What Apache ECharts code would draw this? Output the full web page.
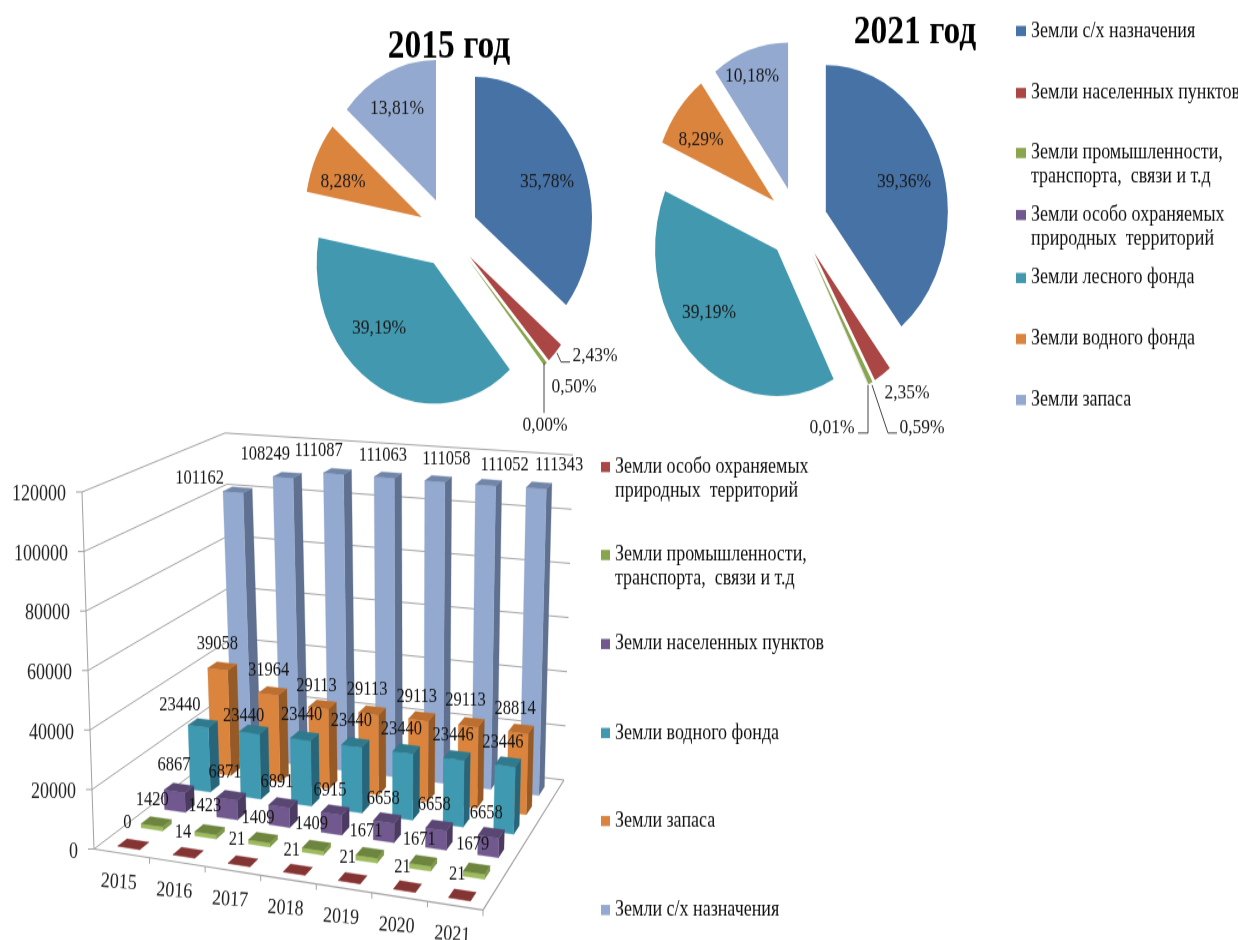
<!DOCTYPE html>
<html><head><meta charset="utf-8">
<style>
html,body{margin:0;padding:0;background:#fff;width:1238px;height:940px}
#chart{width:1238px;height:784px;transform:scaleY(1.2);transform-origin:0 0;filter:blur(.35px)}
</style>
<script src="https://cdn.jsdelivr.net/npm/echarts@6/dist/echarts.min.js"></script>
</head><body><div id="chart"></div>
<script>
// ---------- data ----------
const years = ['2015','2016','2017','2018','2019','2020','2021'];
const yTicks = [0,20000,40000,60000,80000,100000,120000];
const landAg = 'Земли с/х назначения';
const landTown = 'Земли населенных пунктов';
const landIndustry = 'Земли промышленности, транспорта,  связи и т.д';
const landProtected = 'Земли особо охраняемых природных  территорий';
const landForest = 'Земли лесного фонда';
const landWater = 'Земли водного фонда';
const landReserve = 'Земли запаса';
const pieNames = [landAg,landTown,landIndustry,landProtected,landForest,landWater,landReserve];
const share2015 = [35.78,2.43,0.50,0.00,39.19,8.28,13.81];
const share2021 = [39.36,2.35,0.59,0.01,39.19,8.29,10.18];
const rowReserve = [101162,108249,111087,111063,111058,111052,111343];
const rowWater = [39058,31964,29113,29113,29113,29113,28814];
const rowForest = [23440,23440,23440,23440,23440,23446,23446];
const rowTown = [6867,6871,6891,6915,6658,6658,6658];
const rowIndustry = [1420,1423,1409,1409,1671,1671,1679];
const rowProtected = [0,14,21,21,21,21,21];

// ---------- layout / style ----------
const K = 1.2;                 // the whole picture is stretched vertically
const Y = y => y / K;
const FONT = '"Liberation Serif","Times New Roman",serif';
const C = {blue:'#4672a6',red:'#aa4643',green:'#89a54e',purple:'#71588f',teal:'#4198af',orange:'#db843d',peri:'#93a9cf'};
const pieColors = [C.blue,C.red,C.green,C.purple,C.teal,C.orange,C.peri];

// projection of the 3D box
const F = {FL:[94,849],FR:[483,910],BR:[564,780],BL:[237,740]};
const T = {FL:[82,492],FR:[492,540],BR:[573,455],BL:[225,433]};
const mix = (a,b,t) => [a[0]+(b[0]-a[0])*t, a[1]+(b[1]-a[1])*t];
function P(u,v,w){
  const f = mix(mix(F.FL,F.FR,u),mix(F.BL,F.BR,u),v);
  const t = mix(mix(T.FL,T.FR,u),mix(T.BL,T.BR,u),v);
  const p = mix(f,t,w);
  return [p[0],Y(p[1])];
}
const BAR_DU = 0.0285, BAR_DV = 0.033;

const rows = [
 {name:landAg,   vals:rowReserve, v:.90, face:'#93a9cf', top:'#7085a8', side:'#5f7090',
  dx:[-38,-22,-19,-5,8,16,20], dy:[-12,-21,-20,-20,-20,-17,-20]},
 {name:landReserve,vals:rowWater, v:.75, face:'#db843d', top:'#bd6f30', side:'#965a27',
  dx:[-5,-4,-6,-5,-5,-6,-6], dy:[-22,-20,-19,-21,-20,-22,-20]},
 {name:landWater,vals:rowForest, v:.60, face:'#3f99b1', top:'#307a8e', side:'#27657a',
  dx:[-23,-10,-3,-4,-5,-4,-5], dy:[-18,-13,-21,-22,-20,-20,-19]},
 {name:landTown, vals:rowTown, v:.417, face:'#71588f', top:'#5a4672', side:'#4c3b61',
  dx:[-5,-6,-6,-5,-4,-5,-5], dy:[-23,-23,-20,-20,-19,-20,-20]},
 {name:landIndustry,vals:rowIndustry, v:.25, face:'#9ebb5e', top:'#6d853e', side:'#7f9a48',
  dx:[-4,-5,-5,-5,-4,-4,-4], dy:[-22,-23,-20,-21,-22,-21,-24]},
 {name:landProtected,vals:rowProtected, v:.083, face:'#aa4643', top:'#843433', side:'#8c3a38',
  dx:[-6,-5,-6,-6,-5,-5,-5], dy:[-21,-20,-21,-19,-20,-19,-20]}
];
const pts = a => a.map(p => [p[0],p[1]]);
const wOf = (api,val) => {
  const c0 = api.coord([0,0])[1], c1 = api.coord([0,yTicks[yTicks.length-1]])[1];
  return (c0 - api.coord([0,val])[1]) / (c0 - c1);
};
function barRender(row,idx){
  return function(params,api){
    const i = api.value(0), val = api.value(1), w = wOf(api,val);
    const u = (i+.5)/years.length, a=u-BAR_DU, b=u+BAR_DU, s=row.v-BAR_DV, e=row.v+BAR_DV;
    const poly = (p,fill)=>({type:'polygon',z2:idx*2+1,shape:{points:pts(p)},style:{fill,stroke:fill,lineWidth:.3}});
    const top = P(u,row.v,w);
    const children = [
      poly([P(b,s,0),P(b,e,0),P(b,e,w),P(b,s,w)],row.side),
      poly([P(a,s,0),P(b,s,0),P(b,s,w),P(a,s,w)],row.face),
      poly([P(a,s,w),P(b,s,w),P(b,e,w),P(a,e,w)],row.top),
      {type:'text',z2:50,style:{x:top[0]+row.dx[i],y:top[1]+Y(row.dy[i]),text:String(val),
        font:'16.5px '+FONT,fill:'#151515',align:'center',verticalAlign:'middle'}}
    ];
    return {type:'group',children};
  };
}
const LINE = '#a2a2a2';
function wallRender(params,api){
  const val = api.value(1), w = wOf(api,val);
  const l = P(0,0,w), m = P(0,1,w), r = P(1,1,w);
  return {type:'group',children:[
    {type:'polyline',z2:0,shape:{points:[[l[0]-6,l[1]],l,m,r]},style:{stroke:LINE,fill:null,lineWidth:1}},
    {type:'text',z2:50,style:{x:l[0]-16,y:l[1]+Y(3),text:String(val),font:'18px '+FONT,fill:'#222',align:'right',verticalAlign:'middle'}}
  ]};
}
function frameRender(params,api){
  const i = api.value(0), n = years.length;
  const a = P(i/n,0,0), b = P((i+1)/n,0,0), c = P((i+.5)/n,0,0);
  const ch = [
    {type:'polyline',z2:0,shape:{points:[a,b]},style:{stroke:LINE,fill:null,lineWidth:1.2}},
    {type:'polyline',z2:0,shape:{points:[b,[b[0],b[1]+5]]},style:{stroke:LINE,fill:null,lineWidth:1}},
    {type:'text',z2:50,rotation:-0.06,x:c[0]-3,y:c[1]+Y(29),style:{x:0,y:0,text:years[i],font:'18px '+FONT,fill:'#222',align:'center',verticalAlign:'middle'}}
  ];
  if(i===0){
    ch.push({type:'polyline',z2:0,shape:{points:[P(0,0,0),P(0,0,1)]},style:{stroke:LINE,fill:null,lineWidth:1}});
    ch.push({type:'polyline',z2:0,shape:{points:[P(1,0,0),P(1,1,0)]},style:{stroke:LINE,fill:null,lineWidth:1.2}});
  }
  return {type:'group',children:ch};
}

function pieSeries(vals,cx,cy,R,offset){
  return {
    type:'pie',silent:true,animation:false,selectedMode:'multiple',selectedOffset:offset,
    center:[cx,Y(cy)],radius:[0,R],startAngle:90,z:3,
    label:{show:false},labelLine:{show:false},
    data:pieNames.map((name,i)=>({name,value:vals[i],selected:true,itemStyle:{color:pieColors[i]}}))
  };
}
const labels2015 = [[547,182],[595,356],[574,387],[545,425],[379,328],[343,182],[397,108]];
const labels2021 = [[904,182],[907,393],[922,428],[832,428],[709,313],[701,140],[752,76]];
function pieLabelSeries(vals,pos){
  return {
    type:'custom',coordinateSystem:'none',silent:true,z:5,data:vals.map((v,i)=>[i,v]),
    renderItem:(params,api)=>{
      const i = api.value(0), p = pos[i];
      return {type:'text',z2:50,style:{x:p[0],y:Y(p[1]),text:api.value(1).toFixed(2).replace('.',',')+'%',
        font:'17.5px '+FONT,fill:'#1a1a1a',align:'center',verticalAlign:'middle'}};
    }
  };
}

function leg(name,color,x,cy,lines,mw){
  const text = lines.length>1 ? '\n'+lines.join('\n') : lines[0];
  const h = lines.length>1 ? 68 : 28;
  return {
    data:[{name,itemStyle:{color}}],left:x,top:Y(cy+2)-h/2,orient:'vertical',padding:0,
    itemWidth:mw,itemHeight:8.5,icon:'rect',selectedMode:false,
    textStyle:{fontFamily:FONT,fontSize:18,color:'#111',lineHeight:20,padding:[8,0,0,0]},
    formatter:()=>text
  };
}
const l2 = {
 [landIndustry]:['Земли промышленности,','транспорта,  связи и т.д'],
 [landProtected]:['Земли особо охраняемых','природных  территорий']
};
const ln = n => l2[n]||[n];
const topLegendY = [29,91,151,213,276,337,398];
const botLegend = [
 [landProtected,C.red,465],[landIndustry,C.green,553],[landTown,C.purple,642],
 [landWater,C.teal,731],[landReserve,C.orange,819],[landAg,C.peri,908]
];
const legends = pieNames.map((n,i)=>leg(n,pieColors[i],1016,topLegendY[i],ln(n),10))
  .concat(botLegend.map(b=>leg(b[0],b[1],601,b[2],ln(b[0]),9)));

const leaders = [
 [[557,353],[561,362],[570,362]],
 [[544,363],[544,413]],
 [[872,385],[888,433],[897,433]],
 [[868,385],[868,433],[858,433]]
];

const option = {
  animation:false,
  backgroundColor:'#fff',
  title:[
    {text:'2015 год',left:444,top:Y(42.5)-18,textAlign:'center',textStyle:{fontFamily:FONT,fontWeight:'bold',fontSize:33.5,color:'#000'}},
    {text:'2021 год',left:910,top:Y(27.5)-18,textAlign:'center',textStyle:{fontFamily:FONT,fontWeight:'bold',fontSize:33.5,color:'#000'}}
  ],
  legend:legends,
  grid:{left:94,right:600,top:Y(492),height:Y(357)},
  xAxis:{type:'category',data:years,show:false},
  yAxis:{type:'value',min:0,max:120000,interval:20000,show:false},
  graphic:leaders.map(l=>({type:'polyline',silent:true,z:20,shape:{points:l.map(p=>[p[0],Y(p[1])])},style:{stroke:'#444',fill:null,lineWidth:1}})),
  series:[
    {type:'custom',name:'grid',silent:true,renderItem:wallRender,clip:false,data:yTicks.map(t=>[0,t])},
    {type:'custom',name:'frame',silent:true,renderItem:frameRender,clip:false,data:years.map((y,i)=>[i,0])}
  ].concat(rows.map((r,idx)=>({
    type:'custom',name:r.name,silent:true,clip:false,renderItem:barRender(r,idx),
    itemStyle:{color:r.face},data:r.vals.map((v,i)=>[i,v])
  }))).concat([
    pieSeries(share2015,448.4,193.7*K,117,29.5),
    pieSeries(share2021,797.5,186*K,122,30),
    pieLabelSeries(share2015,labels2015),
    pieLabelSeries(share2021,labels2021)
  ])
};
const chart = echarts.init(document.getElementById('chart'));
chart.setOption(option);
</script></body></html>
